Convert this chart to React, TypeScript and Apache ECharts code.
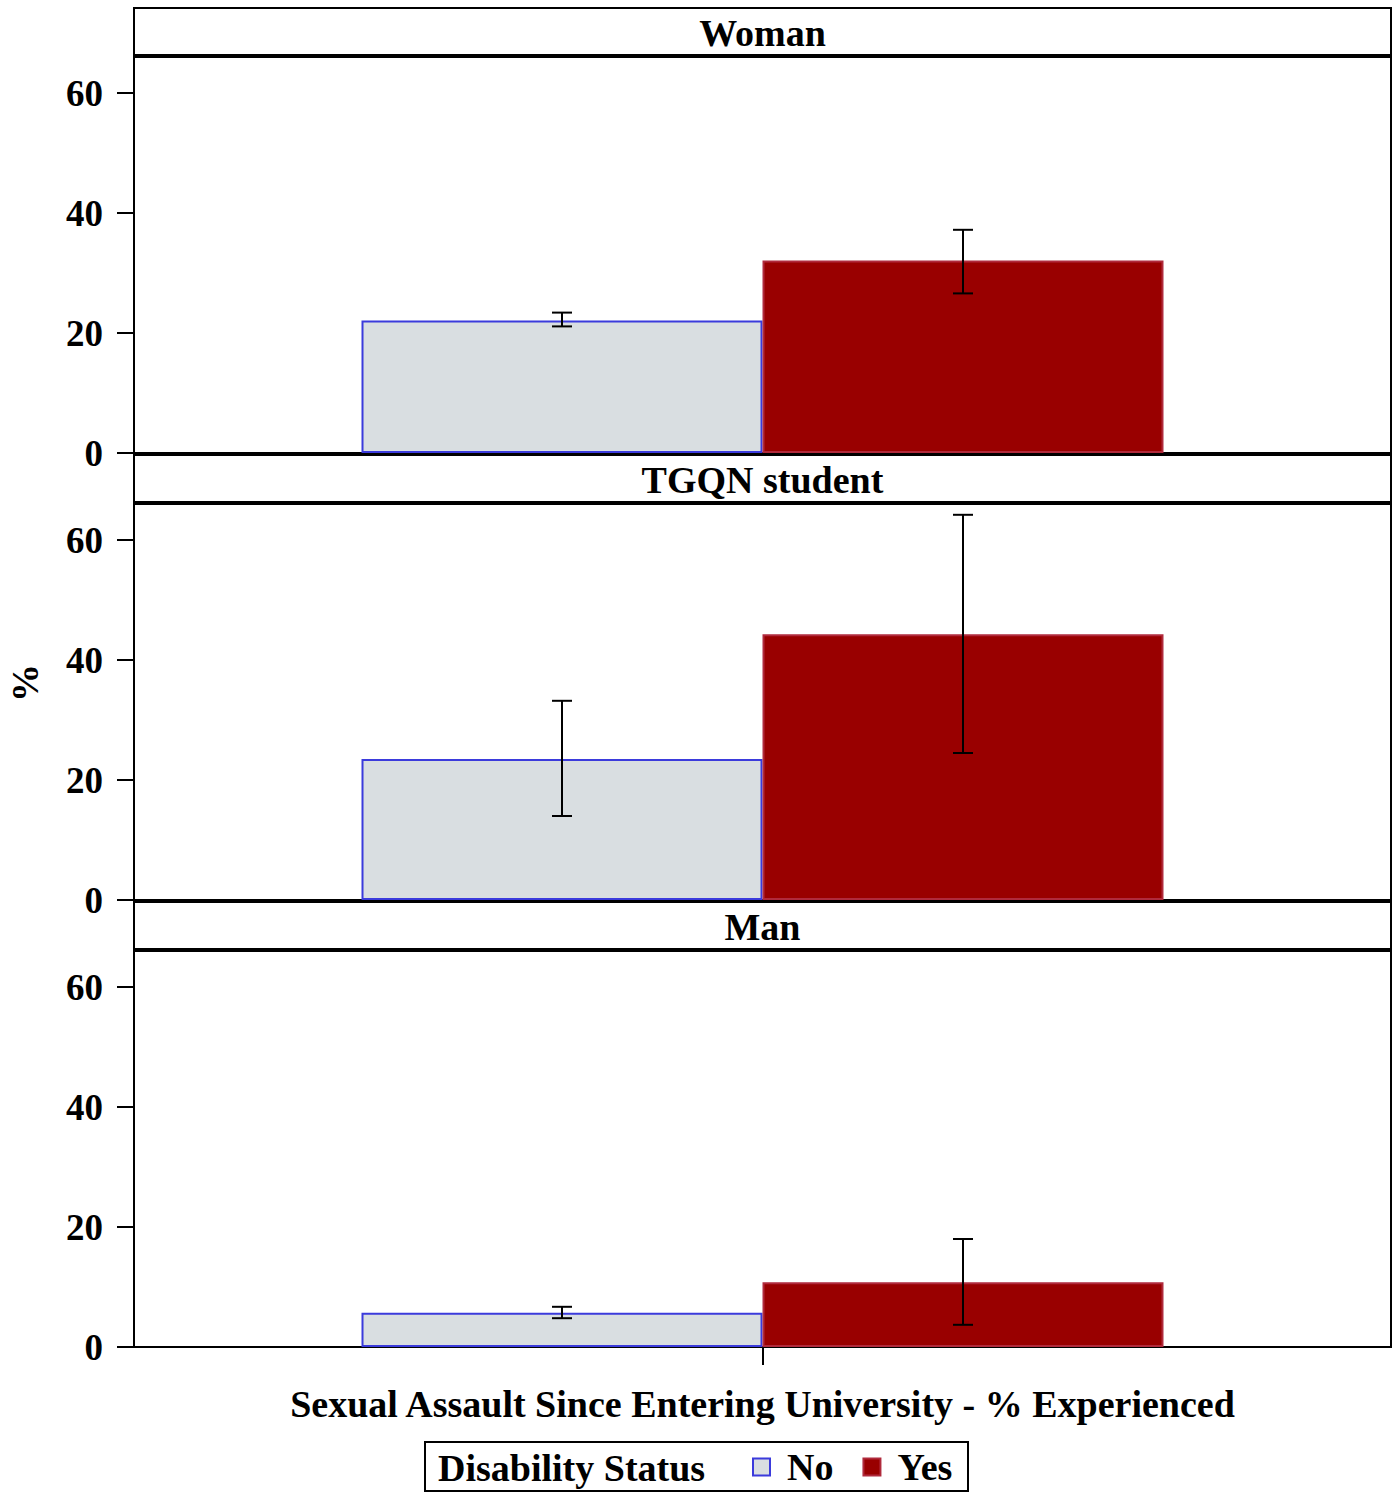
import React, { useEffect, useRef } from "react";
import * as echarts from "echarts";

const panels = ["Woman", "TGQN student", "Man"];
const categories = ["Sexual Assault Since Entering University - % Experienced"];
const groups = ["No", "Yes"];
const noValues = [22.1, 23.5, 5.7];
const yesValues = [32.1, 44.3, 10.8];
const noLower = [21.1, 14.0, 4.8];
const noUpper = [23.4, 33.2, 6.7];
const yesLower = [26.6, 24.5, 3.7];
const yesUpper = [37.2, 64.2, 18.0];
const yTicks = [0, 20, 40, 60];
const yAxisTitle = "%";
const legendTitle = "Disability Status";

const FONT = '"Liberation Serif", "Times New Roman", serif';
const FS = 38;
const TICK_FS = 37;
const GRID_LEFT = 134;
const GRID_W = 1257;
const GRID_H = 396;
const GRID_TOPS = [57, 504, 951];
const STRIP_H = 47;
const BAR_W = 401;
const NO_FILL = "#d9dee1";
const NO_BORDER = "#3b3bdc";
const YES_FILL = "#990000";
const YES_BORDER = "#b02a3c";

export default function App() {
  const ref = useRef<HTMLDivElement>(null);
  useEffect(() => {
    if (!ref.current) return;
    const chart = echarts.init(ref.current, null, { renderer: "svg" });

    const grids = GRID_TOPS.map((top) => ({
      left: GRID_LEFT,
      top,
      width: GRID_W,
      height: GRID_H,
      show: true,
      borderColor: "#000",
      borderWidth: 2,
      backgroundColor: "#fff",
    }));

    const xAxes = GRID_TOPS.map((_, i) => ({
      type: "category",
      gridIndex: i,
      data: categories,
      axisLine: { show: true, lineStyle: { color: "#000", width: 2 } },
      axisTick: {
        show: i === GRID_TOPS.length - 1,
        alignWithLabel: true,
        length: 18,
        lineStyle: { color: "#000", width: 2 },
      },
      axisLabel: { show: false },
      splitLine: { show: false },
    }));

    const yAxes = GRID_TOPS.map((_, i) => ({
      type: "value",
      gridIndex: i,
      min: 0,
      max: 66,
      interval: 20,
      axisLine: { show: true, lineStyle: { color: "#000", width: 2 } },
      axisTick: {
        show: true,
        length: 17,
        customValues: yTicks,
        lineStyle: { color: "#000", width: 2 },
      },
      axisLabel: {
        show: true,
        customValues: yTicks,
        margin: 31,
        color: "#000",
        fontSize: TICK_FS,
        fontWeight: "bold",
        fontFamily: FONT,
      },
      splitLine: { show: false },
    }));

    const series: any[] = [];
    panels.forEach((_, i) => {
      series.push({
        name: groups[0],
        type: "bar",
        xAxisIndex: i,
        yAxisIndex: i,
        barWidth: BAR_W,
        barGap: "0%",
        data: [noValues[i]],
        itemStyle: { color: NO_FILL, borderColor: NO_BORDER, borderWidth: 2 },
      });
      series.push({
        name: groups[1],
        type: "bar",
        xAxisIndex: i,
        yAxisIndex: i,
        barWidth: BAR_W,
        barGap: "0%",
        data: [yesValues[i]],
        itemStyle: { color: YES_FILL, borderColor: YES_BORDER, borderWidth: 2 },
      });
      const errs = [
        { lo: noLower[i], hi: noUpper[i], side: -1 },
        { lo: yesLower[i], hi: yesUpper[i], side: 1 },
      ];
      errs.forEach((e) => {
        series.push({
          type: "custom",
          xAxisIndex: i,
          yAxisIndex: i,
          z: 10,
          silent: true,
          data: [[0, e.lo, e.hi]],
          renderItem: (params: any, api: any) => {
            const lo = api.coord([api.value(0), api.value(1)]);
            const hi = api.coord([api.value(0), api.value(2)]);
            const x = lo[0] + (e.side * BAR_W) / 2;
            const cap = 10;
            const st = { stroke: "#000", lineWidth: 2 };
            return {
              type: "group",
              children: [
                { type: "line", shape: { x1: x, y1: lo[1], x2: x, y2: hi[1] }, style: st },
                { type: "line", shape: { x1: x - cap, y1: lo[1], x2: x + cap, y2: lo[1] }, style: st },
                { type: "line", shape: { x1: x - cap, y1: hi[1], x2: x + cap, y2: hi[1] }, style: st },
              ],
            };
          },
        });
      });
    });

    const graphics: any[] = [];
    panels.forEach((p, i) => {
      const top = GRID_TOPS[i] - STRIP_H - 2;
      graphics.push({
        type: "rect",
        shape: { x: GRID_LEFT, y: top, width: GRID_W, height: STRIP_H },
        style: { fill: "#fff", stroke: "#000", lineWidth: 2 },
        z: 5,
      });
      graphics.push({
        type: "text",
        x: GRID_LEFT + GRID_W / 2,
        y: top + STRIP_H / 2 + 1,
        z: 6,
        style: {
          text: p,
          fontSize: FS,
          fontWeight: "bold",
          fontFamily: FONT,
          fill: "#000",
          align: "center",
          verticalAlign: "middle",
        },
      });
    });
    graphics.push({
      type: "text",
      x: 25,
      y: 683,
      rotation: Math.PI / 2,
      style: {
        text: yAxisTitle,
        fontSize: FS,
        fontWeight: "bold",
        fontFamily: FONT,
        fill: "#000",
        align: "center",
        verticalAlign: "middle",
      },
    });
    graphics.push({
      type: "text",
      x: GRID_LEFT + GRID_W / 2,
      y: 1404,
      style: {
        text: categories[0],
        fontSize: FS,
        fontWeight: "bold",
        fontFamily: FONT,
        fill: "#000",
        align: "center",
        verticalAlign: "middle",
      },
    });
    graphics.push({
      type: "rect",
      shape: { x: 425, y: 1442, width: 543, height: 49 },
      style: { fill: "none", stroke: "#000", lineWidth: 2 },
    });
    graphics.push({
      type: "text",
      x: 438,
      y: 1468,
      style: {
        text: legendTitle,
        fontSize: FS,
        fontWeight: "bold",
        fontFamily: FONT,
        fill: "#000",
        align: "left",
        verticalAlign: "middle",
      },
    });

    chart.setOption({
      animation: false,
      backgroundColor: "#fff",
      grid: grids,
      xAxis: xAxes,
      yAxis: yAxes,
      series,
      legend: {
        data: groups.map((g, k) => ({
          name: g,
          icon: "rect",
          itemStyle: {
            color: k === 0 ? NO_FILL : YES_FILL,
            borderColor: k === 0 ? NO_BORDER : YES_BORDER,
            borderWidth: 2,
          },
        })),
        left: 752,
        top: 1448,
        padding: 0,
        itemWidth: 17,
        itemHeight: 17,
        itemGap: 29,
        selectedMode: false,
        textStyle: {
          fontSize: FS,
          fontWeight: "bold",
          fontFamily: FONT,
          color: "#000",
          padding: [0, 0, 0, 12],
        },
      },
      graphic: graphics,
    });
    return () => chart.dispose();
  }, []);
  return (
    <div
      ref={ref}
      style={{ position: "absolute", left: 0, top: 0, width: 1400, height: 1493 }}
    />
  );
}
